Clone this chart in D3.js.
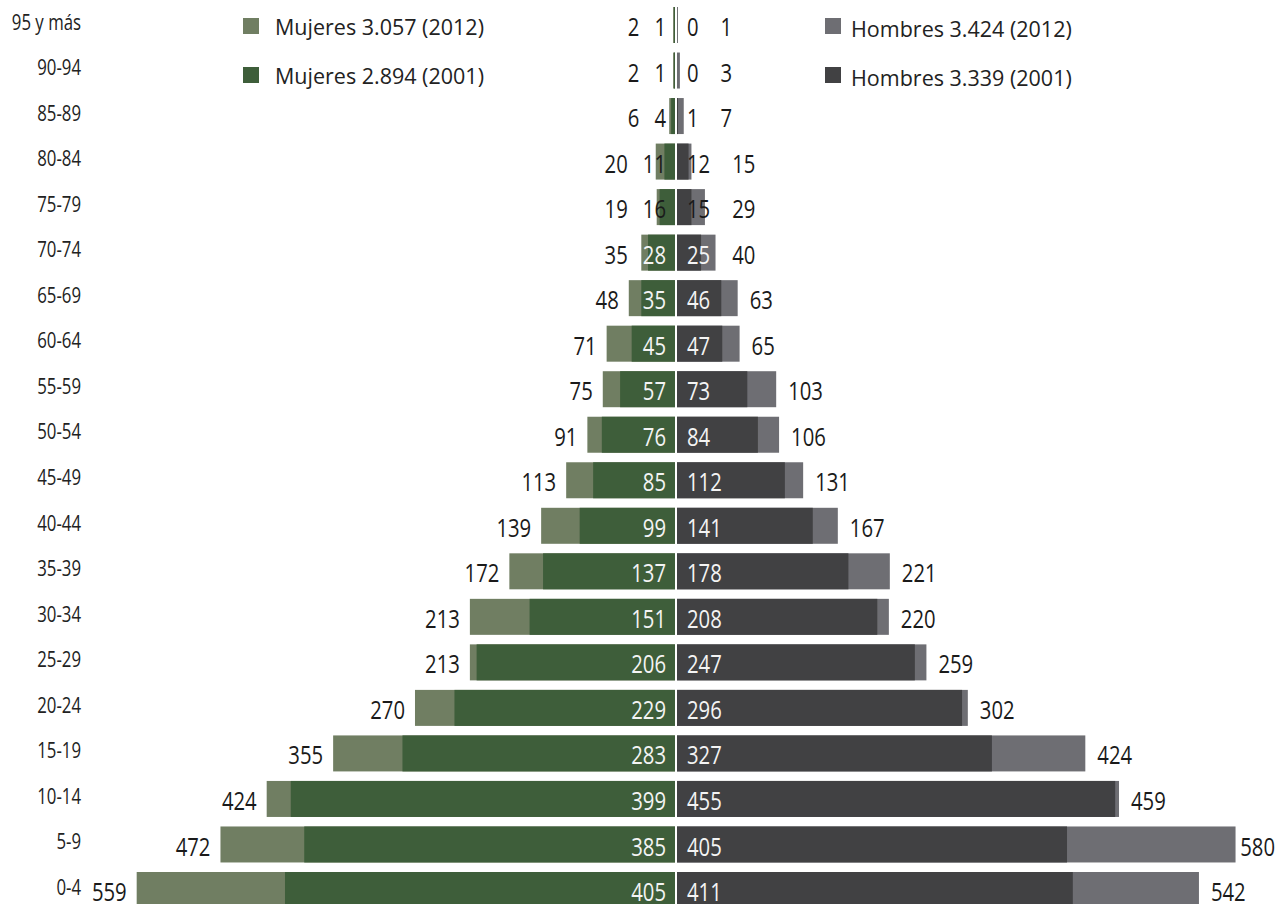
<!DOCTYPE html>
<html>
<head>
<meta charset="utf-8">
<script src="https://cdn.jsdelivr.net/npm/d3@7"></script>
<style>
  html, body { margin: 0; padding: 0; background: #ffffff; }
  svg { display: block; }
</style>
</head>
<body>
<svg id="chart" width="1277" height="904"></svg>
<script>
const ages = ["95 y más","90-94","85-89","80-84","75-79","70-74","65-69","60-64","55-59","50-54","45-49","40-44","35-39","30-34","25-29","20-24","15-19","10-14","5-9","0-4"];
const mujeres2012 = [2,2,6,20,19,35,48,71,75,91,113,139,172,213,213,270,355,424,472,559];
const mujeres2001 = [1,1,4,11,16,28,35,45,57,76,85,99,137,151,206,229,283,399,385,405];
const hombres2001 = [0,0,1,12,15,25,46,47,73,84,112,141,178,208,247,296,327,455,405,411];
const hombres2012 = [1,3,7,15,29,40,63,65,103,106,131,167,221,220,259,302,424,459,580,542];
const legendLeft = ["Mujeres 3.057 (2012)", "Mujeres 2.894 (2001)"];
const legendRight = ["Hombres 3.424 (2012)", "Hombres 3.339 (2001)"];

const C = { w12: "#707e62", w01: "#3e5e3a", m12: "#6e6e73", m01: "#414143" };
const FONT = "'Open Sans', 'Noto Sans', sans-serif";

const svg = d3.select("#chart");
const cx = 676;
const k = 0.963;
const xL = d3.scaleLinear().domain([0, 600]).range([cx - 1, cx - 1 - 600 * k]);
const xR = d3.scaleLinear().domain([0, 600]).range([cx + 1, cx + 1 + 600 * k]);
const y = d3.scalePoint().domain(ages).range([25, 890]);
const bh = 36;

const rows = ages.map((a, i) => ({ a, w12: mujeres2012[i], w01: mujeres2001[i], m01: hombres2001[i], m12: hombres2012[i] }));

// condensed text helper: real text, horizontally compressed
function ctext(g, x, yy, anchor, str, size, sx, fill) {
  return g.append("text")
    .attr("transform", `translate(${x},${yy}) scale(${sx},1)`)
    .attr("text-anchor", anchor).attr("dominant-baseline", "central")
    .style("font-family", FONT).style("font-size", size + "px").style("font-weight", 400)
    .attr("fill", fill).text(str);
}
function cwidth(str, size, sx, g) {
  const t = g.append("text").style("font-family", FONT).style("font-size", size + "px")
    .style("font-weight", 400).text(str);
  const w = t.node().getComputedTextLength() * sx;
  t.remove();
  return w;
}

// row labels
const rl = svg.append("g");
rows.forEach(d => ctext(rl, 81, y(d.a) - 3, "end", d.a, 21, 0.8, "#222"));

const bars = svg.append("g");
// 2012 (behind)
bars.selectAll(".w12").data(rows).join("rect")
  .attr("x", d => xL(d.w12)).attr("y", d => y(d.a) - bh / 2)
  .attr("width", d => xL(0) - xL(d.w12)).attr("height", bh).attr("fill", C.w12);
bars.selectAll(".m12").data(rows).join("rect")
  .attr("x", xR(0)).attr("y", d => y(d.a) - bh / 2)
  .attr("width", d => xR(d.m12) - xR(0)).attr("height", bh).attr("fill", C.m12);
// 2001 (front)
bars.selectAll(".w01").data(rows).join("rect")
  .attr("x", d => xL(d.w01)).attr("y", d => y(d.a) - bh / 2)
  .attr("width", d => xL(0) - xL(d.w01)).attr("height", bh).attr("fill", C.w01);
bars.selectAll(".m01").data(rows).join("rect")
  .attr("x", xR(0)).attr("y", d => y(d.a) - bh / 2)
  .attr("width", d => xR(d.m01) - xR(0)).attr("height", bh).attr("fill", C.m01);

const lab = svg.append("g");
const VS = 26, VX = 0.78;
const inL = cx - 10, inR = cx + 11;

rows.forEach(d => {
  const cy = y(d.a) + 1;
  const wL = cwidth(String(d.w01), VS, VX, lab);
  const wR = cwidth(String(d.m01), VS, VX, lab);
  const wR12 = cwidth(String(d.m12), VS, VX, lab);
  ctext(lab, inL, cy, "end", d.w01, VS, VX, d.w01 >= 20 ? "#f4f4f4" : "#1a1a1a");
  ctext(lab, inR, cy, "start", d.m01, VS, VX, d.m01 >= 20 ? "#f4f4f4" : "#1a1a1a");
  ctext(lab, Math.min(xL(d.w12) - 10, inL - wL - 15), cy, "end", d.w12, VS, VX, "#1a1a1a");
  const xr = Math.min(Math.max(xR(d.m12) + 12, inR + wR + 22), 1277 - wR12 - 2);
  ctext(lab, xr, cy, "start", d.m12, VS, VX, "#1a1a1a");
});

// legend
const legY = d3.scalePoint().domain([0, 1]).range([26, 75]);
const lg = svg.append("g");
legendLeft.forEach((t, i) => {
  lg.append("rect").attr("x", 243).attr("y", legY(i) - 8).attr("width", 16).attr("height", 16)
    .attr("fill", i === 0 ? C.w12 : C.w01);
  ctext(lg, 275, legY(i), "start", t, 21.5, 1.0, "#222");
});
legendRight.forEach((t, i) => {
  lg.append("rect").attr("x", 825).attr("y", legY(i) - 8).attr("width", 16).attr("height", 16)
    .attr("fill", i === 0 ? C.m12 : C.m01);
  ctext(lg, 851, legY(i) + 2, "start", t, 21.5, 1.0, "#222");
});
</script>
</body>
</html>
